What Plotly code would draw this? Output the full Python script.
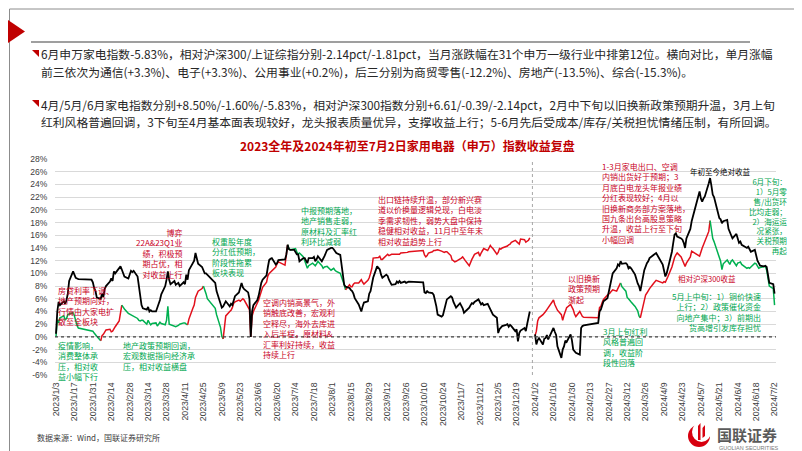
import plotly.graph_objects as go

# ---------------- data ----------------
d23 = ["01-03","01-04","01-05","01-06","01-09","01-10","01-11","01-12","01-13","01-16","01-17","01-18","01-19","01-20","01-30","01-31",
       "02-01","02-02","02-03","02-06","02-07","02-08","02-09","02-10","02-13","02-14","02-15","02-16","02-17","02-20","02-21","02-22","02-23","02-24","02-27","02-28",
       "03-01","03-02","03-03","03-06","03-07","03-08","03-09","03-10","03-13","03-14","03-15","03-16","03-17","03-20","03-21","03-22","03-23","03-24","03-27","03-28","03-29","03-30","03-31",
       "04-03","04-04","04-06","04-07","04-10","04-11","04-12","04-13","04-14","04-17","04-18","04-19","04-20","04-21","04-24","04-25","04-26","04-27","04-28",
       "05-04","05-05","05-08","05-09","05-10","05-11","05-12","05-15","05-16","05-17","05-18","05-19","05-22","05-23","05-24","05-25","05-26","05-29","05-30","05-31",
       "06-01","06-02","06-05","06-06","06-07","06-08","06-09","06-12","06-13","06-14","06-15","06-16","06-19","06-20","06-21","06-26","06-27","06-28","06-29","06-30",
       "07-03","07-04","07-05","07-06","07-07","07-10","07-11","07-12","07-13","07-14","07-17","07-18","07-19","07-20","07-21","07-24","07-25","07-26","07-27","07-28","07-31",
       "08-01","08-02","08-03","08-04","08-07","08-08","08-09","08-10","08-11","08-14","08-15","08-16","08-17","08-18","08-21","08-22","08-23","08-24","08-25","08-28","08-29","08-30","08-31",
       "09-01","09-04","09-05","09-06","09-07","09-08","09-11","09-12","09-13","09-14","09-15","09-18","09-19","09-20","09-21","09-22","09-25","09-26","09-27","09-28",
       "10-09","10-10","10-11","10-12","10-13","10-16","10-17","10-18","10-19","10-20","10-23","10-24","10-25","10-26","10-27","10-30","10-31",
       "11-01","11-02","11-03","11-06","11-07","11-08","11-09","11-10","11-13","11-14","11-15","11-16","11-17","11-20","11-21","11-22","11-23","11-24","11-27","11-28","11-29","11-30",
       "12-01","12-04","12-05","12-06","12-07","12-08","12-11","12-12","12-13","12-14","12-15","12-18","12-19","12-20","12-21","12-22","12-25","12-26","12-27","12-28","12-29"]
abs23 = [0.5,4.0,5.5,5.0,5.6,5.2,5.8,6.8,8.8,10.3,9.8,9.3,9.2,9.1,9.0,8.6,
         7.7,7.2,6.2,6.0,6.8,6.3,7.5,8.0,8.7,9.2,8.8,10.3,10.0,10.8,11.1,10.6,10.0,9.5,9.2,10.0,
         10.4,10.2,10.4,9.5,7.8,6.5,5.0,4.5,4.3,4.7,4.0,4.2,4.0,4.0,4.5,5.0,5.8,6.7,8.0,9.0,10.3,9.0,8.3,
         8.8,8.2,8.5,8.0,8.6,8.3,9.8,9.0,10.5,11.5,12.0,13.2,12.3,11.5,11.0,10.4,10.0,10.0,9.8,
         8.5,7.2,5.5,4.6,4.8,5.3,5.6,4.8,5.2,5.0,5.8,6.4,7.0,8.0,8.5,7.8,7.5,7.0,6.0,0.0,
         4.0,5.0,5.8,6.5,7.8,8.5,9.0,9.7,11.0,12.1,12.3,12.4,11.4,11.6,12.1,12.2,12.9,14.5,13.8,13.7,
         13.7,13.3,13.0,13.0,11.9,12.4,12.4,12.0,11.6,12.4,12.4,12.6,11.9,12.2,12.7,11.9,12.2,12.7,13.2,13.7,14.0,
         14.0,13.8,13.5,13.2,12.9,11.4,9.8,8.2,7.9,7.7,7.4,7.2,6.8,6.1,5.1,4.5,4.0,4.8,5.4,5.6,6.8,7.2,8.5,
         9.3,11.1,10.8,10.6,9.8,9.3,9.8,9.6,9.0,8.7,8.2,8.3,8.7,8.5,8.8,8.5,8.7,8.5,8.6,8.7,
         8.6,7.0,6.9,7.2,7.0,6.9,6.6,5.9,4.8,3.5,3.2,3.4,4.2,5.2,5.9,6.4,6.2,
         5.5,5.1,4.6,5.3,5.0,4.5,3.8,4.0,4.6,5.0,5.3,5.2,5.5,5.9,5.5,5.1,5.3,5.0,5.2,4.8,4.3,4.0,
         3.5,3.0,0.6,1.2,1.4,1.7,1.9,2.0,1.6,1.9,1.7,0.9,1.2,-0.7,0.6,1.0,1.4,0.9,2.0,3.0,4.0]
rel23 = [0.0,2.7,2.2,3.0,3.3,2.7,2.9,3.5,3.6,3.8,3.3,2.5,1.8,1.4,0.9,0.9,
         0.6,0.3,0.1,-0.6,0.2,0.4,0.9,1.1,1.2,0.8,0.9,1.4,1.6,2.5,4.2,5.0,4.6,4.4,3.7,3.6,
         3.4,3.3,3.2,2.9,2.6,2.5,2.6,2.6,2.0,2.6,2.2,1.9,2.1,2.2,1.7,2.0,2.3,2.1,1.9,2.6,4.8,2.0,1.9,
         1.7,1.6,1.8,2.0,2.2,2.2,2.0,1.9,2.8,4.5,5.0,6.2,6.9,7.2,7.6,8.0,7.5,6.8,6.0,
         4.5,3.5,1.5,0.1,-0.3,1.4,3.3,4.0,4.2,4.6,5.3,5.5,5.8,5.6,5.8,6.0,5.8,4.8,4.3,0.0,
         3.3,4.0,5.2,5.8,6.5,7.2,7.8,8.6,9.6,10.0,10.2,10.5,11.0,11.5,11.8,11.3,12.9,14.5,13.9,13.7,
         13.8,13.9,13.4,13.0,13.2,12.6,12.0,11.5,10.8,11.2,11.6,11.4,11.2,11.5,11.9,11.2,10.8,11.0,11.1,11.1,10.5,
         10.6,10.8,10.5,10.3,10.0,9.5,8.8,8.2,7.4,8.2,7.9,7.9,8.3,8.5,8.5,8.8,9.0,8.6,8.3,8.9,9.3,10.0,10.8,
         12.4,12.4,12.5,12.7,12.2,12.2,12.8,13.0,12.8,12.9,13.0,13.0,13.0,13.1,13.0,13.2,13.2,13.3,13.3,13.4,
         13.6,12.9,12.6,12.8,13.2,13.4,13.6,13.6,13.7,13.7,13.5,13.4,13.3,13.4,13.4,12.8,12.1,
         12.0,11.8,11.9,12.2,12.4,12.6,12.2,12.0,11.2,11.8,12.2,12.6,13.0,13.3,12.7,13.2,13.6,13.9,13.6,13.9,14.4,14.1,
         13.9,13.0,13.3,13.9,13.8,14.0,14.2,14.3,14.5,14.6,14.9,15.2,15.0,14.8,14.6,15.4,15.3,14.9,15.1,15.2,15.6]

d24 = ["01-02","01-03","01-04","01-05","01-08","01-09","01-10","01-11","01-12","01-15","01-16","01-17","01-18","01-19","01-22","01-23","01-24","01-25","01-26","01-29","01-30","01-31",
       "02-01","02-02","02-05","02-06","02-07","02-08","02-19","02-20","02-21","02-22","02-23","02-26","02-27","02-28","02-29",
       "03-01","03-04","03-05","03-06","03-07","03-08","03-11","03-12","03-13","03-14","03-15","03-18","03-19","03-20","03-21","03-22","03-25","03-26","03-27","03-28","03-29",
       "04-01","04-02","04-03","04-08","04-09","04-10","04-11","04-12","04-15","04-16","04-17","04-18","04-19","04-22","04-23","04-24","04-25","04-26","04-29","04-30",
       "05-06","05-07","05-08","05-09","05-10","05-13","05-14","05-15","05-16","05-17","05-20","05-21","05-22","05-23","05-24","05-27","05-28","05-29","05-30","05-31",
       "06-03","06-04","06-05","06-06","06-07","06-11","06-12","06-13","06-14","06-17","06-18","06-19","06-20","06-21","06-24","06-25","06-26","06-27","06-28",
       "07-01","07-02"]
abs24 = [0.4,-1.2,-0.5,-0.2,-1.2,-0.3,-0.2,0.3,-0.4,1.0,1.4,0.8,0.3,-1.5,-3.3,-2.0,-1.5,-0.6,-0.8,0.4,-0.5,-2.0,
         -2.2,-2.5,-2.8,1.4,1.7,1.8,2.2,4.0,4.3,4.8,5.6,6.1,7.2,7.8,9.3,
         10.0,10.8,11.4,11.2,11.9,11.5,11.6,11.4,10.8,11.0,10.8,9.8,9.0,8.4,8.0,7.2,10.5,11.2,11.6,11.9,12.4,
         12.9,13.0,13.2,11.4,10.2,9.5,10.0,10.8,13.4,14.8,16.1,16.3,15.8,15.5,15.3,14.8,14.0,15.5,17.0,18.2,
         22.9,21.8,21.3,21.8,22.1,24.2,25.0,23.8,22.4,22.0,19.5,18.7,18.5,17.9,18.2,18.4,17.0,16.6,16.0,15.5,
         16.2,15.5,14.8,15.0,14.5,14.0,14.2,13.8,13.4,13.7,12.7,12.0,11.6,11.2,11.1,11.2,11.0,9.5,8.5,
         8.3,6.8]
rel24 = [0.2,0.9,2.5,3.0,3.5,3.7,4.0,4.3,4.6,5.3,5.8,5.1,4.6,4.2,3.5,2.6,3.4,4.2,4.6,5.1,4.8,4.3,
         3.6,3.2,4.0,3.5,3.2,3.1,3.0,4.6,4.8,5.4,5.9,6.6,6.7,6.9,7.2,
         7.4,7.2,7.6,8.0,8.5,7.9,7.2,6.2,6.0,5.8,5.5,4.8,4.5,4.1,3.3,3.0,6.0,6.6,6.9,7.4,7.6,
         8.4,8.7,8.9,8.5,8.7,8.6,9.0,9.5,11.0,11.8,12.5,12.9,13.2,12.6,12.2,11.6,11.1,11.6,12.6,13.5,
         12.7,13.5,14.0,14.5,15.0,16.6,18.3,17.0,15.5,15.0,13.0,12.4,11.9,10.6,11.5,12.1,11.6,11.4,11.9,12.1,
         11.2,11.6,11.7,11.8,11.4,10.8,10.9,10.8,11.0,11.6,11.5,11.0,10.8,10.9,11.0,11.1,10.5,9.0,8.0,
         7.6,5.0]

# colour of relative-return segments (start date, up/down)
turns23 = [("01-03", "down"), ("02-06", "up"), ("02-22", "down"), ("04-13", "up"),
           ("04-25", "down"), ("05-10", "up"), ("06-28", "down"), ("08-11", "up")]
turns24 = [("01-02", "up"), ("03-07", "down"), ("03-22", "up"), ("05-14", "down")]

x_tick_labels = ["2023/1/3","2023/1/17","2023/1/31","2023/2/14","2023/2/28","2023/3/14","2023/3/28","2023/4/11",
                 "2023/4/25","2023/5/9","2023/5/23","2023/6/6","2023/6/20","2023/7/4","2023/7/18","2023/8/1",
                 "2023/8/15","2023/8/29","2023/9/12","2023/9/26","2023/10/10","2023/10/24","2023/11/7","2023/11/21",
                 "2023/12/5","2023/12/19","2024/1/2","2024/1/16","2024/1/30","2024/2/13","2024/2/27","2024/3/12",
                 "2024/3/26","2024/4/9","2024/4/23","2024/5/7","2024/5/21","2024/6/4","2024/6/18","2024/7/2"]
y_tick_values = list(range(-6, 29, 2))

assert len(d23) == len(abs23) == len(rel23)
assert len(d24) == len(abs24) == len(rel24)

# ---------------- layout helpers ----------------
W, H = 802, 451
ML, MR, MT, MB = 47, 34, 151, 84
PW, PH = W - ML - MR, H - MT - MB
CJK = "Noto Sans CJK SC"
RED_LINE, GREEN_LINE = "#E2101C", "#00B050"
RED_TXT, GREEN_TXT = "#C8001E", "#00A650"
ANN = 8.0


def px(x):
    return (x - ML) / PW


def py(y):
    return (H - MB - y) / PH


def iso_tick(s):
    y, m, d = s.split("/")
    return f"{y}-{int(m):02d}-{int(d):02d}"


fig = go.Figure()


def add_rel(year, dates, vals, turns):
    full = [f"{year}-{d}" for d in dates]
    idx = [dates.index(t[0]) for t in turns] + [len(dates) - 1]
    for k, (_, kind) in enumerate(turns):
        a, b = idx[k], idx[k + 1]
        fig.add_trace(go.Scatter(x=full[a:b + 1], y=vals[a:b + 1], mode="lines",
                                 line=dict(color=RED_LINE if kind == "up" else GREEN_LINE, width=1.5),
                                 showlegend=False, hoverinfo="skip"))


add_rel(2023, d23, rel23, turns23)
add_rel(2024, d24, rel24, turns24)
for year, dates, vals in [(2023, d23, abs23), (2024, d24, abs24)]:
    fig.add_trace(go.Scatter(x=[f"{year}-{d}" for d in dates], y=vals, mode="lines",
                             line=dict(color="#000000", width=1.8), showlegend=False, hoverinfo="skip"))

ann = []


def text(t, x, y, color, size=ANN, anchor="left", bold=False, family=CJK):
    ann.append(dict(text=(f"<b>{t}</b>" if bold else t), x=px(x), y=py(y), xref="paper", yref="paper",
                    xanchor=anchor, yanchor="middle", showarrow=False, borderpad=0, borderwidth=0,
                    font=dict(family=family, size=size, color=color)))


def block(lines, x, y_first, color, anchor="left", size=ANN):
    # one multi-line text box; y_first = centre of the first line (px from top)
    top = y_first - 0.65 * size
    ann.append(dict(text="<br>".join(lines), x=px(x), y=py(top), xref="paper", yref="paper",
                    xanchor=anchor, yanchor="top", align=anchor, showarrow=False,
                    borderpad=0, borderwidth=0, font=dict(family=CJK, size=size, color=color)))


# header
HDR = "#262626"
HS = 11.8
text("6月申万家电指数-5.83%，相对沪深300/上证综指分别-2.14pct/-1.81pct，当月涨跌幅在31个申万一级行业中排第12位。横向对比，单月涨幅", 33, 46, HDR, size=HS)
text("前三依次为通信(+3.3%)、电子(+3.3%)、公用事业(+0.2%)，后三分别为商贸零售(-12.2%)、房地产(-13.5%)、综合(-15.3%)。", 33, 63, HDR, size=HS)
text("4月/5月/6月家电指数分别+8.50%/-1.60%/-5.83%，相对沪深300指数分别+6.61/-0.39/-2.14pct，2月中下旬以旧换新政策预期升温，3月上旬", 33, 96, HDR, size=HS)
text("红利风格普遍回调，3下旬至4月基本面表现较好，龙头报表质量优异，支撑收益上行；5-6月先后受成本/库存/关税担忧情绪压制，有所回调。", 33, 113, HDR, size=HS)

# title
text("2023全年及2024年初至7月2日家用电器（申万）指数收益复盘", 399, 137, "#C00000", size=12, anchor="center", bold=True)

# chart annotations
block(["房贷利率下调、", "地产预期向好，", "行情由大家电扩", "散至全板块"], 50, 282, RED_TXT)
block(["疫情影响，", "消费整体承", "压，相对收", "益小幅下行"], 50, 337, GREEN_TXT)
block(["地产政策预期回调，", "宏观数据指向经济承", "压，相对收益横盘"], 115, 337, GREEN_TXT)
block(["博弈", "22A&23Q1业", "绩，积极预", "期占优，相", "对收益上行"], 174, 224, RED_TXT, anchor="right")
block(["权重股年度", "分红低预期，", "阶段性拖累", "板块表现"], 204, 233, GREEN_TXT)
block(["中报预期落地，", "地产销售走弱，", "原材料及汇率红", "利环比减弱"], 293, 202, GREEN_TXT)
block(["空调内销高景气，外", "销触底改善，宏观利", "空释尽，海外去库进", "入后半程，原材料&",
       "汇率利好持续，收益", "持续上行"], 255, 294, RED_TXT)
block(["出口链持续升温，部分新兴赛", "道以价换量逻辑兑现，白电淡", "季需求韧性，弱势大盘中保持",
       "稳健相对收益，11月中至年末", "相对收益趋势上行"], 370, 191, RED_TXT)
block(["以旧换新", "政策预期", "渐起"], 560, 270, RED_TXT)
block(["1-3月家电出口、空调", "内销出货好于预期；3", "月底白电龙头年报业绩", "分红表现较好；4月以",
       "旧换新商务部方案落地，", "国九条出台高股息策略", "升温，收益上行至下旬", "小幅回调"], 594, 158, RED_TXT)
text("年初至今绝对收益", 682, 163, "#000000", size=7.5)
text("相对沪深300收益", 670, 270, RED_TXT, size=7.5)
block(["6月下旬：", "1）5月零", "售/出货环", "比均走弱；", "2）海运运", "况紧张，", "关税预期", "再起"],
      779, 173, GREEN_TXT, anchor="right", size=7.6)
block(["5月上中旬：1）铜价快速", "上行；2）政策催化资金", "向地产集中；3）前期出", "货高增引发库存担忧"],
      753, 288, GREEN_TXT, anchor="right")
block(["3月上旬红利", "风格普遍回", "调，收益阶", "段性回落"], 595, 323, GREEN_TXT)

# footer
text("数据来源：Wind，国联证券研究所", 29, 429, "#404040", size=8)
text("<b>国联证券</b>", 709, 426, "#5a5a5a", size=15)
text("GUOLIAN SECURITIES", 711, 440, "#7a7a7a", size=5.5, family="Liberation Sans")

shapes = []


def path(points, fill):
    d = "M " + " L ".join(f"{px(a)},{py(b)}" for a, b in points) + " Z"
    shapes.append(dict(type="path", path=d, xref="paper", yref="paper", fillcolor=fill, line=dict(width=0)))


# page border
shapes.append(dict(type="rect", xref="paper", yref="paper", x0=px(1.5), x1=px(798.5), y0=py(1), y1=py(448.5),
                   line=dict(color="#8c8c8c", width=1), fillcolor="rgba(0,0,0,0)"))
# header decorations
path([(0, 12), (0, 35), (17, 23.5)], "#C00000")
shapes.append(dict(type="line", xref="paper", yref="paper", x0=px(23), x1=px(742), y0=py(34), y1=py(34),
                   line=dict(color="#7f7f7f", width=1.5)))
for yy in (46, 96):
    path([(24, yy - 4), (31, yy - 4), (31, yy + 3)], "#C00000")
# zero line and year divider
shapes.append(dict(type="line", xref="paper", yref="y", x0=0, x1=1, y0=0, y1=0,
                   line=dict(color="#404040", width=1.2, dash="dot")))
shapes.append(dict(type="line", xref="x", yref="paper", x0="2023-12-31", x1="2023-12-31", y0=0, y1=1,
                   line=dict(color="#a6a6a6", width=1, dash="dot")))
# logo mark
shapes.append(dict(type="circle", xref="paper", yref="paper", x0=px(680), x1=px(702), y0=py(439), y1=py(417),
                   fillcolor="#D7000F", line=dict(width=0)))
shapes.append(dict(type="circle", xref="paper", yref="paper", x0=px(684), x1=px(703), y0=py(434), y1=py(414),
                   fillcolor="#ffffff", line=dict(width=0)))
path([(690, 432), (690, 418), (692.5, 415), (692.5, 432)], "#D7000F")
path([(694.5, 430), (694.5, 420), (697, 417), (697, 428)], "#D7000F")

fig.update_layout(
    width=W, height=H, autosize=False,
    margin=dict(l=ML, r=MR, t=MT, b=MB, pad=0),
    paper_bgcolor="#ffffff", plot_bgcolor="#ffffff",
    showlegend=False,
    annotations=ann, shapes=shapes,
    xaxis=dict(type="date", range=["2023-01-02 06:00", "2024-07-03 02:00"],
               tickmode="array", tickvals=[iso_tick(s) for s in x_tick_labels], ticktext=x_tick_labels,
               tickangle=-90, showgrid=False, zeroline=False, showline=False,
               ticks="outside", ticklen=3, tickcolor="rgba(0,0,0,0)",
               tickfont=dict(family="Liberation Sans", size=8.7, color="#404040")),
    yaxis=dict(range=[-6, 28], tickmode="array", tickvals=y_tick_values,
               ticktext=[f"{v}%" for v in y_tick_values],
               showgrid=True, gridcolor="#d9d9d9", gridwidth=1, zeroline=False, showline=False,
               ticks="outside", ticklen=5, tickcolor="rgba(0,0,0,0)",
               tickfont=dict(family="Liberation Sans", size=8.5, color="#404040")),
)

fig.write_html("out.html")
